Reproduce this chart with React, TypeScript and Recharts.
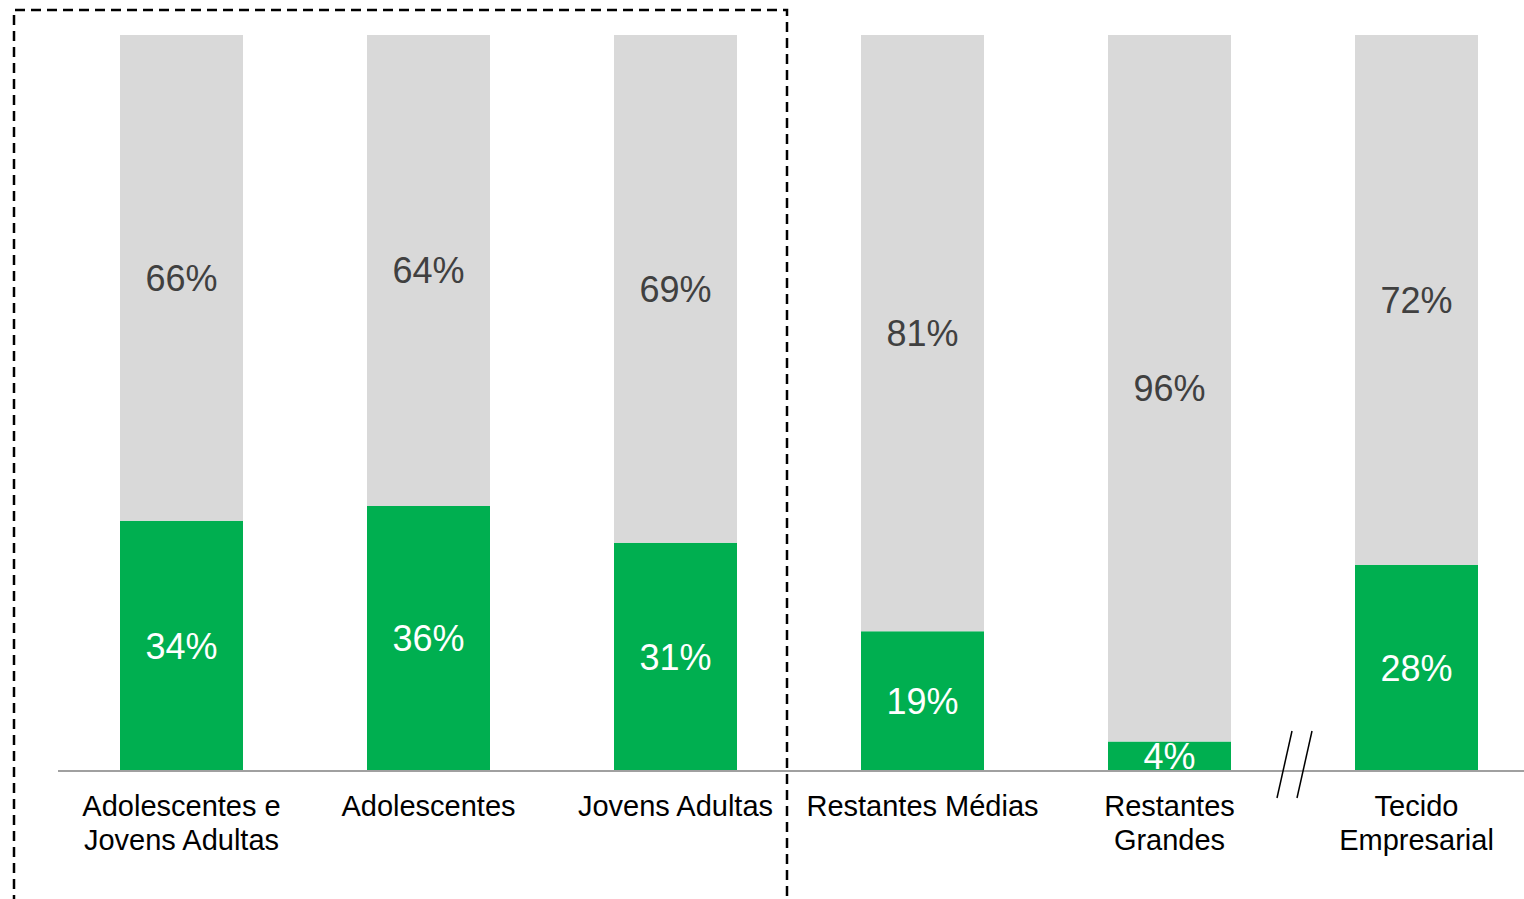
import { BarChart, Bar, XAxis, YAxis, LabelList } from "recharts";

const categories = [
	["Adolescentes e", "Jovens Adultas"],
	["Adolescentes"],
	["Jovens Adultas"],
	["Restantes Médias"],
	["Restantes", "Grandes"],
	["Tecido", "Empresarial"],
];
const greenValues = [34, 36, 31, 19, 4, 28];
const grayValues = [66, 64, 69, 81, 96, 72];

const data = categories.map((c, i) => ({
	name: c.join(" "),
	lines: c,
	green: greenValues[i],
	gray: grayValues[i],
}));

const FONT = "Arial, 'Liberation Sans', sans-serif";

function CategoryTick(props: any) {
	const { x, y, payload, index } = props;
	const lines: string[] = categories[index] ?? [payload.value];
	return (
		<g>
			{lines.map((l, i) => (
				<text
					key={i}
					x={x}
					y={y + 27 + i * 34}
					textAnchor="middle"
					dominantBaseline="central"
					fontFamily={FONT}
					fontSize={29}
					fill="#000"
				>
					{l}
				</text>
			))}
		</g>
	);
}

export default function App() {
	return (
		<div style={{ position: "absolute", left: 0, top: 0, width: 1524, height: 899, overflow: "hidden", background: "#fff" }}>
			<BarChart
				width={1558}
				height={899}
				data={data}
				margin={{ top: 35, right: 18, left: 58, bottom: 28 }}
				barCategoryGap={62}
			>
				<XAxis
					dataKey="name"
					axisLine={{ stroke: "#a0a0a0", strokeWidth: 2 }}
					tickLine={false}
					tick={<CategoryTick />}
					interval={0}
					height={100}
				/>
				<YAxis hide domain={[0, 100]} />
				<Bar dataKey="green" stackId="a" fill="#00AF50" isAnimationActive={false}>
					<LabelList
						dataKey="green"
						position="center"
						formatter={(v: any) => `${v}%`}
						fill="#ffffff"
						fontSize={36}
						fontFamily={FONT}
					/>
				</Bar>
				<Bar dataKey="gray" stackId="a" fill="#D9D9D9" isAnimationActive={false}>
					<LabelList
						dataKey="gray"
						position="center"
						formatter={(v: any) => `${v}%`}
						fill="#404040"
						fontSize={36}
						fontFamily={FONT}
					/>
				</Bar>
			</BarChart>
			<svg width={1524} height={899} style={{ position: "absolute", left: 0, top: 0, pointerEvents: "none" }}>
				<path
					d="M14 905 L14 10 L787 10 L787 905"
					fill="none"
					stroke="#000"
					strokeWidth={2.5}
					strokeDasharray="10 6"
				/>
				<line x1={1292} y1={731} x2={1277} y2={798} stroke="#000" strokeWidth={1.5} />
				<line x1={1312} y1={731} x2={1297} y2={798} stroke="#000" strokeWidth={1.5} />
			</svg>
		</div>
	);
}
